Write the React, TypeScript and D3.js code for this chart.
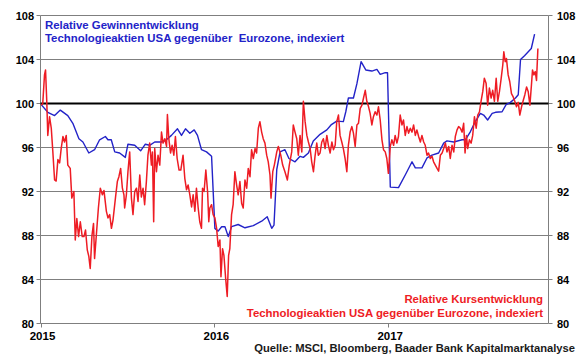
import React from "react";
import * as d3 from "d3";

const yTicks = [80, 84, 88, 92, 96, 100, 104, 108];
const xTicks = [2015, 2016, 2017];

// Relative Gewinnentwicklung (blue), [decimal year, index]
const gewinn: [number, number][] = [
  [2015.004, 99.9], [2015.042, 99.2], [2015.081, 98.9], [2015.114, 99.4], [2015.157, 98.9],
  [2015.186, 98.2], [2015.221, 96.8], [2015.244, 96.5], [2015.278, 95.5], [2015.311, 95.8],
  [2015.34, 96.7], [2015.373, 97.0], [2015.388, 96.7], [2015.407, 96.7], [2015.427, 95.6],
  [2015.455, 95.5], [2015.488, 95.1], [2015.503, 96.3], [2015.542, 96.2], [2015.576, 95.7],
  [2015.603, 96.3], [2015.628, 96.2], [2015.657, 96.5], [2015.696, 96.5], [2015.724, 96.7],
  [2015.753, 97.1], [2015.788, 97.7], [2015.811, 97.1], [2015.834, 97.7], [2015.859, 97.3],
  [2015.884, 97.6], [2015.903, 97.1], [2015.926, 95.8], [2015.955, 95.6], [2015.984, 95.2],
  [2016.003, 88.65], [2016.022, 88.4], [2016.042, 88.8], [2016.061, 88.8], [2016.08, 87.9],
  [2016.099, 88.8], [2016.137, 89.0], [2016.176, 88.7], [2016.224, 88.9], [2016.272, 89.3],
  [2016.304, 89.7], [2016.33, 88.65], [2016.343, 88.95], [2016.359, 94.0], [2016.378, 95.6],
  [2016.406, 95.8], [2016.429, 95.0], [2016.464, 94.7], [2016.493, 95.2], [2016.512, 95.1],
  [2016.541, 95.5], [2016.569, 96.6], [2016.608, 97.2], [2016.647, 97.6], [2016.671, 98.05],
  [2016.704, 98.4], [2016.742, 98.35], [2016.756, 99.25], [2016.771, 100.5], [2016.8, 100.5],
  [2016.82, 101.8], [2016.844, 103.8], [2016.871, 103.05], [2016.906, 102.95], [2016.935, 103.1],
  [2016.954, 102.65], [2016.983, 102.8], [2016.996, 102.8], [2017.012, 92.4], [2017.059, 92.35],
  [2017.098, 93.5], [2017.137, 94.7], [2017.156, 94.15], [2017.194, 94.15], [2017.223, 95.05],
  [2017.252, 95.3], [2017.29, 95.5], [2017.319, 96.4], [2017.338, 96.6], [2017.377, 96.5],
  [2017.425, 96.7], [2017.444, 96.7], [2017.473, 97.45], [2017.501, 98.35], [2017.53, 99.1],
  [2017.549, 98.95], [2017.572, 98.5], [2017.598, 99.1], [2017.617, 99.2], [2017.655, 99.25],
  [2017.678, 99.9], [2017.703, 100.1], [2017.732, 100.5], [2017.748, 100.8], [2017.761, 104.0],
  [2017.784, 104.35], [2017.823, 105.0], [2017.842, 106.3],
];

// Relative Kursentwicklung (red), [decimal year, index]
const kurs: [number, number][] = [
  [2015.004, 99.85], [2015.013, 100.0], [2015.023, 102.6], [2015.029, 103.05], [2015.036, 100.2],
  [2015.042, 97.1], [2015.052, 98.8], [2015.062, 97.75], [2015.071, 95.6], [2015.081, 93.05],
  [2015.09, 92.95], [2015.1, 94.9], [2015.11, 94.6], [2015.119, 95.9], [2015.129, 97.0],
  [2015.138, 96.5], [2015.148, 97.1], [2015.157, 94.4], [2015.171, 94.1], [2015.18, 91.4],
  [2015.192, 92.0], [2015.2, 87.6], [2015.209, 89.55], [2015.219, 87.9], [2015.229, 89.25],
  [2015.24, 87.9], [2015.25, 87.9], [2015.259, 88.5], [2015.269, 86.7], [2015.278, 86.1],
  [2015.286, 85.0], [2015.296, 88.0], [2015.305, 89.1], [2015.311, 85.9], [2015.321, 88.0],
  [2015.333, 90.5], [2015.344, 92.3], [2015.356, 91.7], [2015.365, 92.1], [2015.379, 90.2],
  [2015.388, 89.6], [2015.398, 89.9], [2015.408, 88.65], [2015.417, 89.4], [2015.431, 91.4],
  [2015.442, 92.9], [2015.451, 93.35], [2015.461, 94.1], [2015.471, 92.3], [2015.48, 91.7],
  [2015.484, 90.5], [2015.494, 91.7], [2015.503, 93.8], [2015.513, 95.6], [2015.523, 91.4],
  [2015.532, 89.9], [2015.542, 92.0], [2015.552, 92.3], [2015.561, 91.1], [2015.571, 93.5],
  [2015.58, 91.5], [2015.59, 92.3], [2015.599, 90.8], [2015.609, 92.9], [2015.618, 95.3],
  [2015.628, 96.4], [2015.638, 94.4], [2015.644, 95.6], [2015.651, 89.25], [2015.657, 95.9],
  [2015.667, 93.8], [2015.676, 95.3], [2015.686, 94.4], [2015.696, 97.4], [2015.705, 96.4],
  [2015.715, 96.8], [2015.725, 96.1], [2015.73, 99.0], [2015.738, 96.8], [2015.748, 95.5],
  [2015.757, 96.2], [2015.767, 95.3], [2015.776, 97.0], [2015.786, 95.0], [2015.797, 93.95],
  [2015.807, 93.95], [2015.82, 95.3], [2015.83, 93.2], [2015.84, 92.15], [2015.849, 92.6],
  [2015.859, 91.7], [2015.869, 90.6], [2015.878, 91.7], [2015.888, 90.2], [2015.897, 92.3],
  [2015.907, 90.5], [2015.916, 89.25], [2015.926, 88.65], [2015.932, 92.3], [2015.941, 92.0],
  [2015.951, 93.95], [2015.961, 92.0], [2015.968, 89.25], [2015.974, 90.5], [2015.984, 90.8],
  [2015.993, 89.9], [2016.003, 89.6], [2016.013, 88.65], [2016.022, 87.0], [2016.032, 87.6],
  [2016.038, 84.25], [2016.047, 86.8], [2016.055, 86.2], [2016.065, 84.1], [2016.074, 82.45],
  [2016.082, 86.2], [2016.089, 86.8], [2016.099, 89.9], [2016.108, 90.8], [2016.118, 93.8],
  [2016.128, 92.6], [2016.137, 91.7], [2016.147, 92.9], [2016.157, 90.9], [2016.166, 90.5],
  [2016.176, 93.05], [2016.186, 92.3], [2016.195, 94.1], [2016.205, 93.35], [2016.214, 95.8],
  [2016.224, 95.0], [2016.234, 95.9], [2016.243, 95.5], [2016.253, 97.75], [2016.262, 98.35],
  [2016.272, 97.4], [2016.281, 96.8], [2016.291, 96.4], [2016.301, 95.3], [2016.31, 94.7],
  [2016.32, 93.5], [2016.326, 91.4], [2016.336, 93.8], [2016.345, 94.4], [2016.359, 95.6],
  [2016.368, 96.1], [2016.382, 95.3], [2016.393, 94.4], [2016.406, 93.8], [2016.42, 93.05],
  [2016.431, 94.4], [2016.445, 95.6], [2016.454, 98.05], [2016.464, 97.4], [2016.474, 96.8],
  [2016.483, 95.3], [2016.493, 97.1], [2016.503, 95.6], [2016.512, 100.2], [2016.522, 98.35],
  [2016.532, 97.1], [2016.541, 96.5], [2016.551, 95.9], [2016.56, 94.7], [2016.57, 93.8],
  [2016.579, 95.2], [2016.589, 96.4], [2016.598, 95.3], [2016.608, 95.5], [2016.618, 96.5],
  [2016.627, 96.8], [2016.637, 95.9], [2016.647, 97.1], [2016.656, 96.2], [2016.666, 95.5],
  [2016.676, 96.5], [2016.685, 95.8], [2016.695, 96.2], [2016.704, 98.35], [2016.714, 98.95],
  [2016.723, 97.1], [2016.733, 96.5], [2016.742, 95.9], [2016.752, 95.0], [2016.762, 93.8],
  [2016.771, 96.2], [2016.781, 97.4], [2016.791, 97.9], [2016.8, 97.3], [2016.81, 96.1],
  [2016.82, 98.05], [2016.829, 98.2], [2016.839, 99.55], [2016.849, 99.85], [2016.858, 100.5],
  [2016.868, 101.2], [2016.877, 100.2], [2016.887, 99.7], [2016.896, 99.1], [2016.906, 98.05],
  [2016.915, 98.8], [2016.925, 99.25], [2016.935, 98.95], [2016.944, 99.7], [2016.954, 98.5],
  [2016.964, 96.7], [2016.973, 95.8], [2016.983, 95.6], [2016.992, 95.0], [2017.001, 93.65],
  [2017.012, 96.1], [2017.021, 96.7], [2017.031, 96.2], [2017.04, 97.1], [2017.05, 96.4],
  [2017.059, 97.0], [2017.069, 98.95], [2017.079, 98.05], [2017.088, 98.5], [2017.098, 97.1],
  [2017.108, 97.9], [2017.117, 97.3], [2017.127, 97.75], [2017.137, 97.4], [2017.146, 98.05],
  [2017.156, 97.1], [2017.165, 97.6], [2017.175, 97.0], [2017.185, 96.5], [2017.194, 97.1],
  [2017.204, 96.5], [2017.213, 96.2], [2017.223, 95.3], [2017.232, 95.5], [2017.242, 95.0],
  [2017.252, 95.2], [2017.261, 94.7], [2017.271, 94.4], [2017.281, 94.1], [2017.29, 93.85],
  [2017.3, 95.3], [2017.31, 95.5], [2017.319, 95.9], [2017.329, 96.4], [2017.338, 95.6],
  [2017.348, 96.1], [2017.357, 95.0], [2017.367, 96.2], [2017.377, 95.6], [2017.386, 97.0],
  [2017.396, 97.6], [2017.405, 97.9], [2017.415, 97.75], [2017.425, 97.4], [2017.434, 98.2],
  [2017.442, 95.5], [2017.45, 97.1], [2017.457, 95.9], [2017.467, 96.7], [2017.477, 96.4],
  [2017.486, 97.1], [2017.496, 98.8], [2017.506, 97.75], [2017.515, 98.95], [2017.525, 99.25],
  [2017.534, 100.2], [2017.544, 101.1], [2017.553, 102.3], [2017.563, 101.85], [2017.572, 99.85],
  [2017.582, 101.4], [2017.592, 100.5], [2017.601, 101.2], [2017.611, 100.2], [2017.621, 102.3],
  [2017.63, 100.2], [2017.64, 101.1], [2017.65, 102.3], [2017.659, 103.5], [2017.665, 104.7],
  [2017.673, 103.8], [2017.68, 104.1], [2017.69, 102.6], [2017.699, 102.0], [2017.709, 100.9],
  [2017.719, 100.6], [2017.728, 100.2], [2017.738, 99.7], [2017.748, 100.1], [2017.757, 98.95],
  [2017.767, 99.7], [2017.777, 100.3], [2017.786, 100.8], [2017.796, 101.5], [2017.805, 101.1],
  [2017.815, 99.85], [2017.824, 101.7], [2017.83, 103.05], [2017.838, 102.6], [2017.846, 102.9],
  [2017.853, 102.1], [2017.861, 105.0],
];

const blueLegend = ["Relative Gewinnentwicklung", "Technologieaktien USA gegenüber  Eurozone, indexiert"];
const redLegend = ["Relative Kursentwicklung", "Technologieaktien USA gegenüber Eurozone, indexiert"];
const sourceText = "Quelle: MSCI, Bloomberg, Baader Bank Kapitalmarktanalyse";

export default function App() {
  const W = 580;
  const H = 358;
  const left = 40.5;
  const right = 548.5;
  const x = d3.scaleLinear().domain([2015, 2017.922]).range([left, right]);
  const y = d3.scaleLinear().domain([80, 108]).range([323.5, 15.5]);
  const line = d3
    .line<[number, number]>()
    .x((d) => x(d[0]))
    .y((d) => y(d[1]));

  const font = "'Liberation Sans', Arial, sans-serif";
  const grid = "#7f7f7f";
  const blue = "#2323c8";
  const red = "#ee1c24";

  return (
    <svg
      width={W}
      height={H}
      viewBox={`0 0 ${W} ${H}`}
      style={{ position: "absolute", left: 0, top: 0, background: "#fff" }}
      fontFamily={font}
    >
      <rect x={0} y={0} width={W} height={H} fill="#fff" />
      {yTicks.map((t) =>
        t === 100 ? null : (
          <line key={"g" + t} x1={left} x2={right} y1={y(t)} y2={y(t)} stroke={grid} strokeWidth={1} />
        )
      )}
      {yTicks.map((t) => (
        <g key={"t" + t}>
          <line x1={left - 4} x2={left} y1={y(t)} y2={y(t)} stroke={grid} />
          <line x1={right} x2={right + 4} y1={y(t)} y2={y(t)} stroke={grid} />
          <text x={34} y={y(t) + 4} textAnchor="end" fontSize={11} fontWeight="bold" fill="#000">
            {t}
          </text>
          <text x={557} y={y(t) + 4} textAnchor="start" fontSize={11} fontWeight="bold" fill="#000">
            {t}
          </text>
        </g>
      ))}
      <line x1={left} x2={left} y1={y(108)} y2={y(80)} stroke={grid} />
      <line x1={right} x2={right} y1={y(108)} y2={y(80)} stroke={grid} />
      {xTicks.map((t) => (
        <g key={"x" + t}>
          <line x1={Math.round(x(t)) + 0.5} x2={Math.round(x(t)) + 0.5} y1={y(80)} y2={y(80) + 4} stroke={grid} />
          <text x={x(t) + 2} y={340} textAnchor="middle" fontSize={11.5} fontWeight="bold" fill="#000">
            {t}
          </text>
        </g>
      ))}
      <line x1={left} x2={right} y1={y(100)} y2={y(100)} stroke="#000" strokeWidth={2} />
      <path d={line(gewinn) || ""} fill="none" stroke={blue} strokeWidth={1.4} strokeLinejoin="round" />
      <path d={line(kurs) || ""} fill="none" stroke={red} strokeWidth={1.5} strokeLinejoin="round" />
      <text x={45} y={29} fontSize={11.4} fontWeight="bold" fill={blue}>
        {blueLegend[0]}
      </text>
      <text x={45} y={42} fontSize={11.4} fontWeight="bold" fill={blue} style={{ whiteSpace: "pre" }}>
        {blueLegend[1]}
      </text>
      <text x={543} y={303} textAnchor="end" fontSize={11.4} fontWeight="bold" fill={red}>
        {redLegend[0]}
      </text>
      <text x={543} y={316.5} textAnchor="end" fontSize={11.4} fontWeight="bold" fill={red}>
        {redLegend[1]}
      </text>
      <text x={575} y={352} textAnchor="end" fontSize={11.2} fontWeight="bold" fill="#1a1a1a">
        {sourceText}
      </text>
    </svg>
  );
}
